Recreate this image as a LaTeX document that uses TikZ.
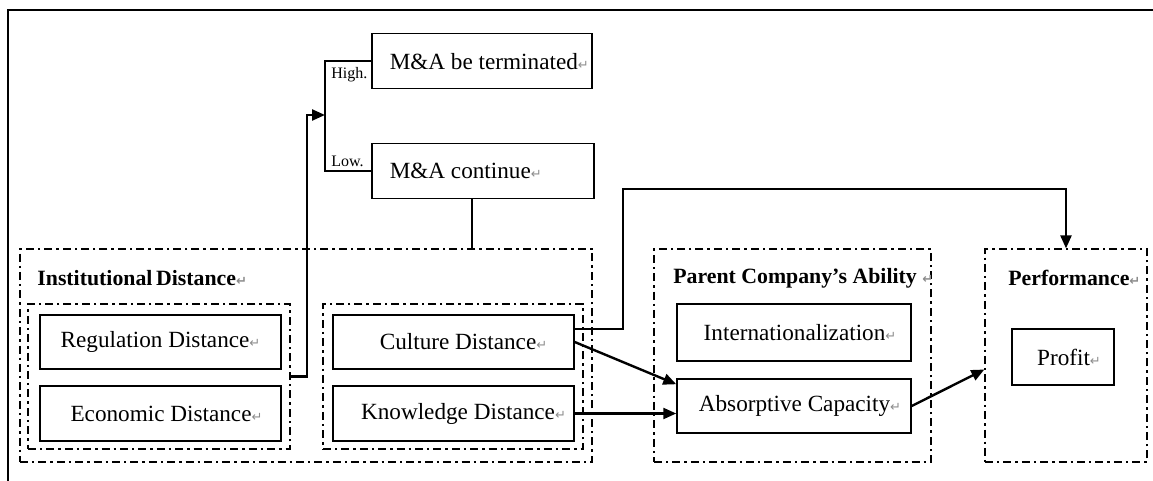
\documentclass[tikz,border=0pt]{standalone}
\usepackage{fontspec}
\setmainfont{Liberation Serif}
\newfontfamily\symfont{DejaVu Sans}
\usetikzlibrary{arrows.meta}
\newcommand\retmk{{\color{black!45}\symfont\fontsize{6.5}{7}\selectfont ↵}}
\begin{document}
\begin{tikzpicture}[x=0.5pt,y=-0.5pt,
 font=\fontsize{11.6}{14}\selectfont,
 box/.style={draw,line width=0.75pt,inner sep=0pt},
 grp/.style={draw,line width=0.6pt,dash pattern=on 4pt off 2pt on 1.2pt off 2pt,inner sep=0pt},
 conn/.style={line width=1.2pt},
 arr/.style={conn,-{Triangle[length=6.5pt,width=5.5pt]}},
 ttl/.style={anchor=west,font=\fontsize{10.9}{13}\selectfont\bfseries,inner sep=0pt},
 small/.style={anchor=west,font=\fontsize{8}{9}\selectfont,inner sep=0pt},
 mabox/.style={box,anchor=north west,minimum height=27.5pt,inner xsep=9pt,inner ysep=0pt},
]
\useasboundingbox (0,0) rectangle (1153,481);
% outer frame
\draw[line width=1.2pt] (8,481) -- (8,10) -- (1153,10);

% top decision boxes
\node[mabox] (term) at (371,33) {\makebox[92pt][l]{M\&A be terminated\retmk}};
\node[mabox] (cont) at (371,143) {\makebox[93pt][l]{M\&A continue\retmk}};
\node[small] (high) at (331,75) {High.};
\node[small] (low) at (331,161) {Low.};
\coordinate (br) at (325,115);
\coordinate (j1) at (307,115);
\coordinate (c2) at (623,189);

% groups
\node[grp,minimum width=286pt,minimum height=106.5pt] (inst) at (306,355.5) {};
\node[ttl] (instT) at (37,278) {Institutional\,Distance\retmk};
\node[grp,minimum width=131pt,minimum height=72.5pt] (g1) at (159,376.5) {};
\node[grp,minimum width=130pt,minimum height=72.5pt] (g2) at (453,376.5) {};
\node[grp,minimum width=138.5pt,minimum height=106.5pt] (par) at (792.5,355.5) {};
\node[ttl] (parT) at (673,278) {Parent Company’s Ability \retmk};
\node[grp,minimum width=81pt,minimum height=106.5pt] (perf) at (1066,355.5) {};
\node[ttl] (perfT) at (1008,278) {Performance\retmk};

% boxes
\node[box,minimum width=120.5pt,minimum height=27pt] (reg) at (160.5,342) {Regulation Distance\retmk};
\node[box,minimum width=120.5pt,minimum height=27.5pt] (eco) at (160.5,413.5) {\hspace{6pt}Economic Distance\retmk};
\node[box,minimum width=120.5pt,minimum height=27pt] (cult) at (453.5,342) {\hspace{10pt}Culture Distance\retmk};
\node[box,minimum width=120.5pt,minimum height=27.5pt] (know) at (453.5,413.5) {\hspace{10pt}Knowledge Distance\retmk};
\node[box,minimum width=117pt,minimum height=28.5pt] (intl) at (794,332.5) {\hspace{6pt}Internationalization\retmk};
\node[box,minimum width=117pt,minimum height=27pt] (abs) at (794,406) {\hspace{6pt}Absorptive Capacity\retmk};
\node[box,minimum width=51pt,minimum height=28pt] (prof) at (1063,357) {\hspace{6pt}Profit\retmk};

% connectors
\draw[conn] (term.west) -- ++(-46,0) |- (cont.west);
\draw[arr] (g1.east) -| (j1) -- (br);
\draw[conn] ([xshift=-5.5pt]cont.south) -- ([xshift=-5.5pt]cont.south |- inst.north);
\draw[arr] (cult.east) -- ([yshift=-3pt]abs.north west);
\draw[arr] (know.east) -- (abs.west |- know.east);
\draw[arr] (abs.east) -- ([yshift=-7pt]perf.west);
\draw[arr] ([yshift=6.5pt]cult.east) -| (c2) -| (perf.north);
\end{tikzpicture}
\end{document}
